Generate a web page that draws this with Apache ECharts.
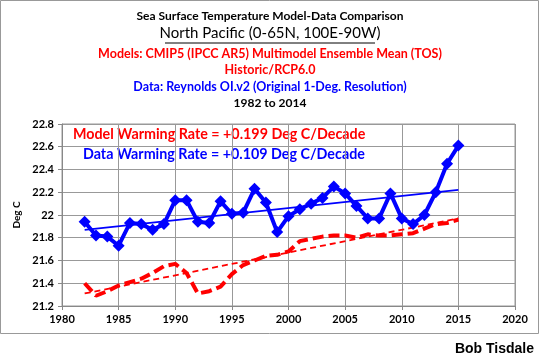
<!DOCTYPE html>
<html><head><meta charset="utf-8">
<script src="https://cdn.jsdelivr.net/npm/echarts@6/dist/echarts.min.js"></script>
<style>html,body{margin:0;padding:0;background:#fff}#c{width:540px;height:362px}</style>
</head><body><div id="c"></div>
<script>
var years = [1982,1983,1984,1985,1986,1987,1988,1989,1990,1991,1992,1993,1994,1995,1996,1997,1998,1999,2000,2001,2002,2003,2004,2005,2006,2007,2008,2009,2010,2011,2012,2013,2014,2015];
var dataSST = [21.94,21.82,21.81,21.73,21.93,21.92,21.87,21.92,22.13,22.13,21.94,21.93,22.12,22.01,22.02,22.23,22.11,21.85,21.99,22.05,22.10,22.15,22.25,22.19,22.08,21.97,21.97,22.19,21.97,21.92,22.00,22.20,22.45,22.61];
var modelSST = [21.40,21.29,21.33,21.38,21.41,21.44,21.49,21.55,21.57,21.49,21.31,21.33,21.37,21.48,21.56,21.60,21.64,21.65,21.68,21.77,21.79,21.81,21.82,21.82,21.80,21.83,21.82,21.82,21.83,21.84,21.88,21.92,21.93,21.96];
var dataTrend = [[1982,21.87],[2015,22.22]];
var modelTrend = [[1982,21.31],[2015,21.97]];
var xTicks = {min:1980,max:2020,step:5};
var yTicks = {min:21.2,max:22.8,step:0.2};

function pairs(xs, ys){ return xs.map(function(x,i){return [x, ys[i]];}); }

var F = 'Lato, "Open Sans", sans-serif';
var chart = echarts.init(document.getElementById('c'), null, {renderer:'canvas'});
chart.setOption({
  animation:false,
  backgroundColor:'#fff',
  grid:{left:62,right:25,top:124,bottom:56,show:true,borderColor:'#999',borderWidth:1},
  xAxis:{type:'value',min:xTicks.min,max:xTicks.max,interval:xTicks.step,
    axisLine:{show:true,onZero:false,lineStyle:{color:'#888'}},
    axisTick:{show:true,length:4,lineStyle:{color:'#888'}},
    axisLabel:{color:'#000',fontFamily:F,fontWeight:'bold',fontSize:11,margin:8,
      formatter:function(v){return String(v);}},
    splitLine:{show:true,lineStyle:{color:'#999',width:1}}},
  yAxis:{type:'value',min:yTicks.min,max:yTicks.max,interval:yTicks.step,
    name:'Deg C',nameLocation:'middle',nameGap:36,nameRotate:90,
    nameTextStyle:{color:'#000',fontFamily:F,fontWeight:'bold',fontSize:10},
    axisLine:{show:true,lineStyle:{color:'#888'}},
    axisTick:{show:true,length:4,lineStyle:{color:'#888'}},
    axisLabel:{color:'#000',fontFamily:F,fontWeight:'bold',fontSize:11,margin:8,
      formatter:function(v){return String(Math.round(v*10)/10);}},
    splitLine:{show:true,lineStyle:{color:'#999',width:1}}},
  series:[
    {type:'line',name:'Model Trend',data:modelTrend,symbol:'none',z:2,
      lineStyle:{color:'#ff0000',width:1.8,type:[6,4]}},
    {type:'line',name:'Model',data:pairs(years,modelSST),symbol:'none',z:3,
      lineStyle:{color:'#ff0000',width:4,type:[11,5]}},
    {type:'line',name:'Data Trend',data:dataTrend,symbol:'none',z:4,
      lineStyle:{color:'#0000ff',width:1.8}},
    {type:'line',name:'Data',data:pairs(years,dataSST),symbol:'diamond',symbolSize:12,z:5,
      itemStyle:{color:'#0000ff'},lineStyle:{color:'#0000ff',width:4}}
  ],
  graphic:[
    {type:'rect',shape:{x:0.5,y:0.5,width:538,height:333},style:{fill:'none',stroke:'#999',lineWidth:1},z:-10},
    {type:'text',left:'center',top:10,style:{text:'Sea Surface Temperature Model-Data Comparison',fill:'#000',font:'bold 12px '+F}},
    {type:'text',left:'center',top:26,style:{text:'North Pacific (0-65N, 100E-90W)',fill:'#000',font:'15px '+F}},
    {type:'line',shape:{x1:165,y1:43,x2:375,y2:43},style:{stroke:'#000',lineWidth:1}},
    {type:'text',left:'center',top:47,style:{text:'Models: CMIP5 (IPCC AR5) Multimodel Ensemble Mean (TOS)',fill:'#ff0000',font:'bold 12.5px '+F}},
    {type:'text',left:'center',top:63,style:{text:'Historic/RCP6.0',fill:'#ff0000',font:'bold 12.5px '+F}},
    {type:'text',left:'center',top:80,style:{text:'Data: Reynolds OI.v2 (Original 1-Deg. Resolution)',fill:'#0000ff',font:'bold 12.5px '+F}},
    {type:'text',left:'center',top:97,style:{text:'1982 to 2014',fill:'#000',font:'bold 12px '+F}},
    {type:'text',left:73,top:127,style:{text:'Model Warming Rate = +0.199 Deg C/Decade',fill:'#ff0000',font:'bold 14.3px '+F}},
    {type:'text',left:83,top:147,style:{text:'Data Warming Rate = +0.109 Deg C/Decade',fill:'#0000ff',font:'bold 14.3px '+F}},
    {type:'text',right:6,top:342,style:{text:'Bob Tisdale',fill:'#000',font:'bold 14px "Liberation Sans", Arial, sans-serif'}}
  ]
});
</script></body></html>
